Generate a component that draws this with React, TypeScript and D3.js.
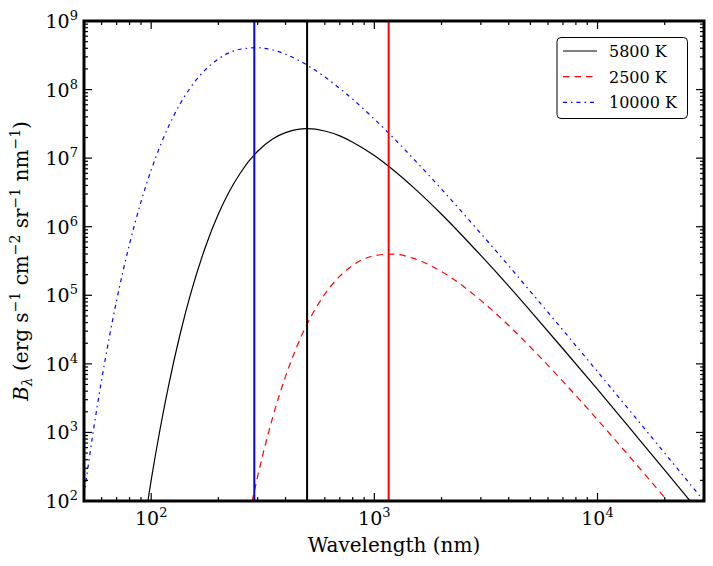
import * as d3 from "d3";

// Planck curves (nm vs erg s^-1 cm^-2 sr^-1 nm^-1)
const wl5800 = [95, 100, 110, 120, 135, 150, 175, 200, 250, 300, 350, 400, 500, 600, 700, 800, 1000, 1200, 1500, 2000, 3000, 4000, 5000, 7000, 10000, 15000, 20000, 30000];
const b5800 = [7.02e1, 2.01e2, 1.19e3, 5.04e3, 2.77e4, 1.03e5, 5.07e5, 1.53e6, 5.98e6, 1.26e7, 1.9e7, 2.36e7, 2.69e7, 2.49e7, 2.11e7, 1.71e7, 1.09e7, 6.93e6, 3.71e6, 1.52e6, 3.81e5, 1.36e5, 5.93e4, 1.66e4, 4.23e3, 8.71e2, 2.82e2, 5.69e1];

const wl2500 = [270, 280, 300, 320, 350, 375, 400, 450, 500, 600, 700, 800, 1000, 1200, 1500, 2000, 3000, 4000, 5000, 7000, 10000, 15000, 20000, 30000];
const b2500 = [4.59e1, 8.18e1, 2.28e2, 5.48e2, 1.64e3, 3.48e3, 6.56e3, 1.8e4, 3.82e4, 1.04e5, 1.9e5, 2.74e5, 3.78e5, 3.99e5, 3.45e5, 2.22e5, 8.43e4, 3.62e4, 1.76e4, 5.55e3, 1.53e3, 3.35e2, 1.12e2, 2.32e1];

const wl10000 = [50, 55, 60, 65, 70, 80, 90, 100, 110, 120, 135, 150, 175, 200, 250, 300, 350, 400, 500, 600, 700, 800, 1000, 1200, 1500, 2000, 3000, 4000, 5000, 7000, 10000, 15000, 20000, 30000];
const b10000 = [1.21e2, 1.03e3, 5.9e3, 2.5e4, 8.38e4, 5.62e5, 2.3e6, 6.71e6, 1.54e7, 2.97e7, 6.24e7, 1.07e8, 1.95e8, 2.8e8, 3.87e8, 4.08e8, 3.78e8, 3.28e8, 2.27e8, 1.53e8, 1.04e8, 7.23e7, 3.71e7, 2.07e7, 9.73e6, 3.53e6, 7.96e5, 2.69e5, 1.14e5, 3.1e4, 7.69e3, 1.56e3, 4.99e2, 9.98e1];

const seriesLabels = ["5800 K", "2500 K", "10000 K"];
// peak wavelengths (vertical lines) for 10000 K, 5800 K, 2500 K
const peakWl = [289.8, 499.6, 1159];
const xMajor = [100, 1000, 10000];
const yMajor = [1e2, 1e3, 1e4, 1e5, 1e6, 1e7, 1e8, 1e9];

const W = 713;
const H = 566;
const left = 84;
const right = 704;
const top = 21;
const bottom = 501;
const font = "DejaVu Serif";

const x = d3.scaleLog().domain([50, 30000]).range([left, right]);
const y = d3.scaleLog().domain([1e2, 1e9]).range([bottom, top]);

const line = d3
  .line<[number, number]>()
  .x((d) => x(d[0]))
  .y((d) => y(d[1]))
  .curve(d3.curveMonotoneX);

const zip = (a: number[], b: number[]) => a.map((v, i) => [v, b[i]] as [number, number]);

const series = [
  { label: seriesLabels[0], pts: zip(wl5800, b5800), color: "#000000", dash: "none" },
  { label: seriesLabels[1], pts: zip(wl2500, b2500), color: "#ff0000", dash: "6.5,5" },
  { label: seriesLabels[2], pts: zip(wl10000, b10000), color: "#0000ff", dash: "4,4,1.5,4" },
];
const peakColors = ["#0000ff", "#000000", "#ff0000"];

const isMajor = (v: number) => Math.abs(Math.log10(v) - Math.round(Math.log10(v))) < 1e-9;

const Pow = ({ e }: { e: number }) => (
  <>
    <tspan fontFamily={font}>10</tspan>
    <tspan fontFamily={font} fontSize={13} dy={-8}>
      {e}
    </tspan>
  </>
);

const App = () => {
  const xt = x.ticks();
  const yt = y.ticks();

  return (
    <svg width={W} height={H} style={{ position: "absolute", left: 0, top: 0, background: "#fff" }}>
      <defs>
        <clipPath id="plot">
          <rect x={left} y={top} width={right - left} height={bottom - top} />
        </clipPath>
      </defs>

      <g clipPath="url(#plot)">
        {series.map((s) => (
          <path key={s.label} d={line(s.pts) || ""} fill="none" stroke={s.color} strokeWidth={1.2} strokeDasharray={s.dash} />
        ))}
        {peakWl.map((p, i) => (
          <line key={p} x1={x(p)} x2={x(p)} y1={top} y2={bottom} stroke={peakColors[i]} strokeWidth={2} />
        ))}
      </g>

      {/* ticks, inward on all sides */}
      <g stroke="#000" strokeWidth={1.2}>
        {xt.map((t) => {
          const len = isMajor(t) ? 8 : 4;
          const px = x(t);
          return (
            <g key={"x" + t}>
              <line x1={px} x2={px} y1={bottom} y2={bottom - len} />
              <line x1={px} x2={px} y1={top} y2={top + len} />
            </g>
          );
        })}
        {yt.map((t) => {
          const len = isMajor(t) ? 8 : 4;
          const py = y(t);
          return (
            <g key={"y" + t}>
              <line x1={left} x2={left + len} y1={py} y2={py} />
              <line x1={right} x2={right - len} y1={py} y2={py} />
            </g>
          );
        })}
      </g>

      <rect x={left} y={top} width={right - left} height={bottom - top} fill="none" stroke="#000" strokeWidth={3} />

      {xMajor.map((t) => (
        <text key={"xl" + t} x={x(t)} y={525} fontSize={19} fontFamily={font} textAnchor="middle">
          <Pow e={Math.round(Math.log10(t))} />
        </text>
      ))}
      {yMajor.map((t) => (
        <text key={"yl" + t} x={78} y={y(t) + 7} fontSize={19} fontFamily={font} textAnchor="end">
          <Pow e={Math.round(Math.log10(t))} />
        </text>
      ))}

      <text x={(left + right) / 2} y={552} fontSize={20} fontFamily={font} textAnchor="middle">
        Wavelength (nm)
      </text>

      <text transform={`translate(28,${(top + bottom) / 2}) rotate(-90)`} fontSize={20} fontFamily={font} textAnchor="middle">
        <tspan fontFamily={font} fontStyle="italic">B</tspan>
        <tspan fontFamily={font} fontSize={14} dy={4} fontStyle="italic">λ</tspan>
        <tspan fontFamily={font} dy={-4}> (erg s</tspan>
        <tspan fontFamily={font} fontSize={14} dy={-8}>−1</tspan>
        <tspan fontFamily={font} dy={8}> cm</tspan>
        <tspan fontFamily={font} fontSize={14} dy={-8}>−2</tspan>
        <tspan fontFamily={font} dy={8}> sr</tspan>
        <tspan fontFamily={font} fontSize={14} dy={-8}>−1</tspan>
        <tspan fontFamily={font} dy={8}> nm</tspan>
        <tspan fontFamily={font} fontSize={14} dy={-8}>−1</tspan>
        <tspan fontFamily={font} dy={8}>)</tspan>
      </text>

      {/* legend */}
      <g>
        <rect x={557} y={37.5} width={130.5} height={81} rx={4} fill="#fff" stroke="#000" strokeWidth={1} />
        {series.map((s, i) => {
          const cy = 51 + i * 25.7;
          return (
            <g key={"lg" + s.label}>
              <line x1={563} x2={597} y1={cy} y2={cy} stroke={s.color} strokeWidth={1.2} strokeDasharray={s.dash} />
              <text x={609} y={cy + 5.8} fontSize={16} fontFamily={font}>
                {s.label}
              </text>
            </g>
          );
        })}
      </g>
    </svg>
  );
};

export default App;
